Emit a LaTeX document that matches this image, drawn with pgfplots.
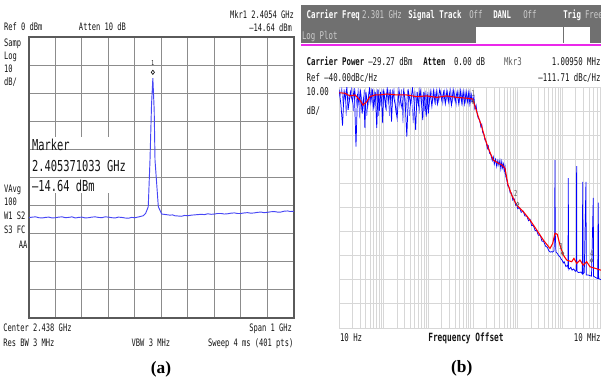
\documentclass[border=0pt]{standalone}
\usepackage{pgfplots}
\pgfplotsset{compat=1.18}
\usepackage{fontspec}
\setmainfont{Liberation Serif}
\newfontfamily\scr[FakeStretch=0.69]{DejaVu Sans Mono}
\definecolor{tracea}{RGB}{70,70,245}
\definecolor{gridA}{RGB}{140,140,140}
\definecolor{frameA}{RGB}{90,90,90}
\definecolor{gridB}{RGB}{215,215,215}
\definecolor{barB}{RGB}{112,112,112}
\definecolor{lightT}{RGB}{205,205,205}
\definecolor{magB}{RGB}{235,40,235}
\definecolor{txt}{RGB}{20,20,20}
\definecolor{mkr}{RGB}{90,90,90}
\definecolor{lblue}{RGB}{110,110,255}
\newcommand{\fa}{\scr\fontsize{7.7}{8}\selectfont}
\newcommand{\fb}{\scr\fontsize{8}{9}\selectfont}
\newcommand{\fm}{\scr\fontsize{11.3}{12}\selectfont}
\begin{document}
\begin{tikzpicture}[x=0.75pt,y=-0.75pt,every node/.style={inner sep=0pt,outer sep=0pt}]
\useasboundingbox (0,0) rectangle (601,383);
% ================= panel (a) =================
\begin{axis}[at={(21.75pt,-238.5pt)},anchor=south west,scale only axis,
  width=198.75pt,height=210.75pt,
  xmin=1.938,xmax=2.938,ymin=-100,ymax=0,
  xtick={2.038,2.138,2.238,2.338,2.438,2.538,2.638,2.738,2.838},
  ytick={-90,-80,-70,-60,-50,-40,-30,-20,-10},
  xticklabels={},yticklabels={},major tick length=0pt,
  grid=major,major grid style={gridA,line width=0.75pt},
  axis line style={frameA,line width=1.1pt}]
\addplot[tracea,line width=0.7pt] coordinates {
(1.938,-64.3) (1.950,-64.1) (1.963,-64.0) (1.975,-64.3) (1.988,-64.4) (2.000,-64.2) (2.013,-64.1)
(2.025,-64.4) (2.038,-64.3) (2.050,-64.1) (2.063,-64.0) (2.075,-64.3) (2.088,-64.2) (2.100,-64.0)
(2.113,-64.4) (2.125,-64.2) (2.138,-64.1) (2.150,-64.4) (2.163,-64.3) (2.175,-64.1) (2.188,-64.0)
(2.200,-64.2) (2.213,-64.3) (2.225,-64.0) (2.238,-64.1) (2.250,-64.3) (2.263,-64.4) (2.275,-64.1)
(2.288,-64.2) (2.300,-64.4) (2.313,-64.5) (2.325,-64.2) (2.338,-64.3) (2.353,-64.0)
(2.3693,-63.6) (2.378,-62.8) (2.388,-60.4) (2.3946,-43.8) (2.4004,-24) (2.4054,-14.64)
(2.4104,-26) (2.4135,-43.8) (2.426,-60.4) (2.4388,-63.0)
(2.455,-63.2) (2.470,-63.4) (2.480,-63.3) (2.488,-63.6) (2.500,-63.7) (2.513,-63.8) (2.525,-63.5)
(2.538,-63.6) (2.550,-63.4) (2.563,-63.3) (2.575,-63.2) (2.588,-63.1) (2.600,-63.2) (2.613,-62.9)
(2.625,-63.1) (2.638,-63.0) (2.650,-62.8) (2.663,-62.8) (2.675,-63.0) (2.688,-62.9) (2.700,-62.7)
(2.713,-62.6) (2.725,-62.8) (2.738,-62.8) (2.750,-62.6) (2.763,-62.5) (2.775,-62.7) (2.788,-62.6)
(2.800,-62.4) (2.813,-62.3) (2.825,-62.5) (2.838,-62.4) (2.850,-62.2) (2.863,-62.1) (2.875,-62.3)
(2.888,-62.3) (2.900,-62.0) (2.913,-61.9) (2.925,-62.1) (2.938,-62.0)
};
\addplot[only marks,mark=diamond*,mark size=1.6pt,mark options={draw=txt,fill=white,line width=0.5pt}]
  coordinates {(2.4054,-12.56)};
\node[font=\scr\fontsize{5}{5}\selectfont,text=txt] at (axis cs:2.4054,-9.4) {1};
\end{axis}
% marker read-out box
\fill[white] (31,137) rectangle (129,148.8);
\fill[white] (31,150.1) rectangle (129,176.9);
\fill[white] (31,178.2) rectangle (129,193);
\begin{scope}[every node/.append style={font=\fa,text=txt}]
\node[anchor=base west] at (4,30) {Ref 0 dBm};
\node[anchor=base west] at (79,30) {Atten 10 dB};
\node[anchor=base east] at (294,18.3) {Mkr1 2.4054 GHz};
\node[anchor=base east] at (292,31.5) {–14.64 dBm};
\node[anchor=base west] at (4,46.5) {Samp};
\node[anchor=base west] at (4,59.4) {Log};
\node[anchor=base west] at (4,72.7) {10};
\node[anchor=base west] at (4,85.4) {dB/};
\node[anchor=base west] at (4,192.7) {VAvg};
\node[anchor=base west] at (4,205) {100};
\node[anchor=base west] at (4,219.4) {W1 S2};
\node[anchor=base west] at (4,233.7) {S3 FC};
\node[anchor=base east] at (27.5,248.4) {AA};
\node[anchor=base west] at (3.3,331) {Center 2.438 GHz};
\node[anchor=base east] at (292,331) {Span 1 GHz};
\node[anchor=base west] at (3.3,346) {Res BW 3 MHz};
\node[anchor=base west] at (131.7,346) {VBW 3 MHz};
\node[anchor=base east] at (293.3,346) {Sweep 4 ms (401 pts)};
\end{scope}
\begin{scope}[every node/.append style={font=\fm,text=txt}]
\node[anchor=base west] at (32,150.3) {Marker};
\node[anchor=base west] at (32,171.7) {2.405371033 GHz};
\node[anchor=base west] at (32,191) {–14.64 dBm};
\end{scope}
\node[font=\fontsize{13}{14}\selectfont\bfseries] at (161,369) {(a)};
% ================= panel (b) =================
\fill[barB] (301,5) rectangle (601,43.3);
\fill[white] (475.7,26.7) rectangle (590,43.3);
\draw[barB,line width=0.75pt] (563,26.7) -- (563,43.3);
\fill[magB] (301,44.3) rectangle (601,46.3);
\begin{axis}[at={(254.25pt,-246pt)},anchor=south west,scale only axis,
  width=201pt,height=180.75pt,
  xmode=log,xmin=10,xmax=1e7,ymin=-140,ymax=-40,
  xtick={10,100,1000,10000,100000,1000000,10000000},
  minor xtick={20,30,40,50,60,70,80,90,200,300,400,500,600,700,800,900,
    2000,3000,4000,5000,6000,7000,8000,9000,2e4,3e4,4e4,5e4,6e4,7e4,8e4,9e4,
    2e5,3e5,4e5,5e5,6e5,7e5,8e5,9e5,2e6,3e6,4e6,5e6,6e6,7e6,8e6,9e6},
  ytick={-130,-120,-110,-100,-90,-80,-70,-60,-50},
  xticklabels={},yticklabels={},major tick length=0pt,minor tick length=0pt,
  xmajorgrids=true,xminorgrids=true,ymajorgrids=true,
  major grid style={gridB,line width=0.75pt},minor grid style={gridB,line width=0.75pt},
  axis line style={gridB,line width=0.75pt}]
\addplot[lblue,line width=0.5pt] coordinates {
(10.5,-44) (11.5,-40.5) (12.5,-48) (13.5,-41) (14.5,-52) (15.5,-43) (17,-46) (19,-40.5) (21,-50)
(23,-42) (25,-47) (27,-40.5) (29,-53) (31,-43) (34,-48) (37,-41) (42,-52) (46,-43) (50,-47)
(54,-40.5) (58,-50) (62,-42) (67,-46) (72,-41) (77,-52) (82,-43) (87,-48) (92,-41) (97,-47)
(105,-43) (115,-50) (125,-41) (135,-52) (145,-42) (155,-47) (170,-40.5) (190,-51) (210,-43)
(230,-48) (250,-41) (270,-55) (290,-42) (315,-50) (345,-41) (380,-52) (420,-43) (460,-55)
(500,-41.5) (540,-48) (580,-42) (625,-51) (675,-41) (725,-47) (775,-42) (825,-50) (875,-41.5)
(925,-48) (975,-42)
(1050,-47) (1150,-41.5) (1250,-46) (1350,-42) (1450,-47.5) (1550,-41) (1700,-46) (1900,-42)
(2100,-47) (2300,-41.5) (2500,-45.5) (2700,-42) (2900,-47) (3150,-41) (3450,-46) (3800,-42)
(4200,-47.5) (4600,-41.5) (5000,-46) (5400,-42) (5800,-47) (6250,-41.5) (6750,-46) (7250,-42)
(7750,-47) (8250,-42) (8750,-46) (9250,-43) (9750,-45)
};
\addplot[blue,line width=0.55pt] coordinates {
(10,-41) (11,-47) (12,-56) (13,-42) (14,-45) (15,-40) (16,-49.5) (18,-42) (20,-46) (22,-40.5)
(24,-64.7) (26,-43) (28,-47) (30,-41) (33,-51) (36,-44) (38,-57) (40,-42) (44,-48) (48,-40.5)
(52,-46) (56,-41) (60,-49) (65,-42) (70,-57) (75,-41) (80,-50) (85,-42) (90,-46) (95,-55)
(100,-41) (110,-48) (120,-40.5) (130,-46) (140,-41) (150,-54.4) (160,-42) (180,-47) (200,-53)
(220,-41) (240,-46) (260,-49) (280,-41.5) (300,-45) (330,-60.6) (360,-42) (400,-47) (440,-40.5)
(480,-46) (520,-57.8) (560,-42) (600,-48) (650,-41) (700,-46) (750,-53.7) (800,-42) (850,-47)
(900,-52.3) (950,-43)
(1000,-51) (1100,-42) (1200,-48) (1300,-41.5) (1400,-46) (1500,-42) (1600,-47) (1800,-41)
(2000,-45.5) (2200,-42) (2400,-47) (2600,-41.5) (2800,-46) (3000,-42.5) (3300,-47.5) (3600,-41)
(4000,-46) (4400,-42) (4800,-47) (5200,-41.5) (5600,-46.5) (6000,-42) (6500,-47) (7000,-42)
(7500,-46) (8000,-42.5) (8500,-47) (9000,-43) (9500,-46)
(10000,-46) (10500,-44) (11000,-49) (11700,-47.5) (12500,-51.5) (13100,-53) (14000,-53.5)
(15000,-56.5) (15700,-55.5) (16500,-59) (17500,-59.5) (18500,-62) (19500,-62.5) (21000,-65.5)
(22000,-64.5) (23500,-67.5) (25000,-68) (27000,-70.5) (28500,-69) (30000,-72) (32000,-70)
(34000,-73) (36000,-70.5) (38000,-72.5) (40000,-70.5) (42000,-74) (44000,-71) (46000,-73.5)
(48000,-72) (50000,-75) (52000,-73) (54000,-77) (57000,-78.5) (60000,-81) (64000,-81.5)
(68000,-84) (73000,-84) (78000,-87) (84000,-86.5) (90000,-89) (95000,-88.5) (100000,-90.5)
(110000,-90) (120000,-92) (133000,-91.5) (145000,-93.5) (160000,-93.5) (175000,-95.5)
(190000,-95) (205000,-97.5) (225000,-97.5) (245000,-99.5) (265000,-99.5) (290000,-101.5)
(320000,-101.5) (350000,-104) (380000,-104) (420000,-106) (460000,-106.5) (500000,-108)
(540000,-108.5) (575000,-108.3) (600000,-108.5) (650000,-108) (675000,-100) (684000,-70.3)
(693000,-100) (720000,-108.5) (770000,-109) (830000,-110) (885000,-110.5) (950000,-111.5)
(1000000,-112) (1050000,-113) (1100000,-112.5) (1200000,-114.5) (1300000,-114) (1340000,-115)
(1360000,-77.8) (1380000,-115) (1450000,-115.5) (1550000,-114.8) (1650000,-116) (1800000,-115.5)
(1950000,-116.5) (2060000,-116) (2090000,-72.8) (2120000,-116.5) (2300000,-117) (2600000,-116.8)
(2800000,-117.5) (2860000,-79.4) (2920000,-117.5) (3100000,-117) (3380000,-79.4) (3450000,-118)
(3800000,-118) (4500000,-118.5) (4930000,-86) (5000000,-118.5) (5500000,-119) (6200000,-119.5)
(6380000,-88) (6500000,-119.5) (7500000,-120) (8500000,-120.5) (10000000,-121)
};
\addplot[red,line width=0.8pt] coordinates {
(10,-42.4) (10.5,-42.4) (13.6,-42.6) (17.6,-43.7) (22.8,-43.3) (29.5,-45.4) (34.4,-47.5)
(41.7,-46.1) (49.4,-44) (64,-43.3) (82.8,-43.3) (117,-42.9) (196,-43.3) (328,-43.3) (548,-44)
(919,-43.7) (1538,-44.3) (2576,-43.7) (4315,-44.3) (7850,-44.7) (9840,-45) (11090,-48)
(13130,-52.3) (15660,-56.4) (18550,-61.3) (21990,-65.4) (28430,-70.3) (36800,-71.6)
(43850,-72.3) (52000,-73.7) (54800,-76) (60700,-80.5) (73400,-84.8) (95000,-89) (133600,-91.7)
(188800,-95.2) (266700,-99.3) (375000,-103.5) (529600,-107) (608000,-104.9) (684000,-100.7)
(771000,-101.1) (885000,-105.6) (1050000,-109.7) (1250000,-111.8) (1620000,-112.5)
(1820000,-111.1) (2100000,-113.2) (2480000,-111.8) (2940000,-113.9) (3510000,-112.5)
(4160000,-114.6) (5380000,-115.2) (6970000,-115.9) (10000000,-116.5)
};
\addplot[only marks,mark=diamond,mark size=1.4pt,mark options={draw=mkr,line width=0.4pt}]
  coordinates {(10000,-46.1) (100000,-88.5) (1009500,-109) (4500000,-112)};
\node[font=\scr\fontsize{6}{6}\selectfont,text=mkr] at (axis cs:10200,-42.6) {1};
\node[font=\scr\fontsize{6}{6}\selectfont,text=mkr] at (axis cs:90400,-84.1) {2};
\node[font=\scr\fontsize{6}{6}\selectfont,text=mkr] at (axis cs:933000,-106.3) {3};
\node[font=\scr\fontsize{6}{6}\selectfont,text=mkr] at (axis cs:4540000,-109) {4};
\end{axis}
\begin{scope}[every node/.append style={font=\fb}]
\node[anchor=base west,text=white] at (306.7,18) {\bfseries Carrier Freq};
\node[anchor=base west,text=lightT] at (362,18) {2.301 GHz};
\node[anchor=base west,text=white] at (408.3,18) {\bfseries Signal Track};
\node[anchor=base west,text=lightT] at (469.3,18) {Off};
\node[anchor=base west,text=white] at (493.3,18) {\bfseries DANL};
\node[anchor=base west,text=lightT] at (523.3,18) {Off};
\node[anchor=base west,text=white] at (563.3,18) {\bfseries Trig};
\node[anchor=base west,text=lightT] at (585,18) {Free};
\node[anchor=base west,text=lightT] at (302,39) {Log Plot};
\node[anchor=base west,text=txt] at (306.7,65.7) {\bfseries Carrier Power};
\node[anchor=base west,text=txt] at (368.3,65.7) {–29.27 dBm};
\node[anchor=base west,text=txt] at (423.3,65.7) {\bfseries Atten};
\node[anchor=base west,text=txt] at (454,65.7) {0.00 dB};
\node[anchor=base west,text=mkr] at (504,65.7) {Mkr3};
\node[anchor=base east,text=txt] at (600.5,65.7) {1.00950 MHz};
\node[anchor=base west,text=txt] at (306.7,81.7) {Ref –40.00dBc/Hz};
\node[anchor=base east,text=txt] at (600.5,81.7) {–111.71 dBc/Hz};
\node[anchor=base west,text=txt] at (306.7,95.7) {10.00};
\node[anchor=base west,text=txt] at (306.7,114.3) {dB/};
\node[anchor=base west,text=txt] at (340,341) {10 Hz};
\node[anchor=base west,text=txt,font=\scr\fontsize{8.5}{9}\selectfont\bfseries] at (428.3,341) {Frequency Offset};
\node[anchor=base east,text=txt] at (600.5,341) {10 MHz};
\end{scope}
\node[font=\fontsize{13}{14}\selectfont\bfseries] at (461.7,368) {(b)};
\end{tikzpicture}
\end{document}
